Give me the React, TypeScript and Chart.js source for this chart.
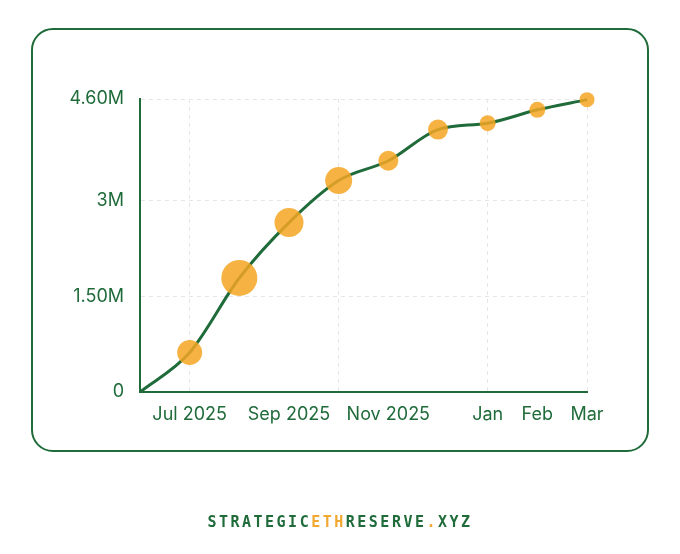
import React, { useEffect, useRef } from "react";
import { Chart, registerables } from "chart.js";

Chart.register(...registerables);

const categories = ["Jun 2025", "Jul 2025", "Aug 2025", "Sep 2025", "Oct 2025", "Nov 2025", "Dec 2025", "Jan", "Feb", "Mar"];
const tickLabels = ["", "Jul 2025", "", "Sep 2025", "", "Nov 2025", "", "Jan", "Feb", "Mar"];
const gridIndices = [1, 4, 7, 9];
const holdings = [0, 0.62e6, 1.79e6, 2.66e6, 3.32e6, 3.63e6, 4.12e6, 4.22e6, 4.43e6, 4.59e6];
const bubbleSizes = [0, 12.5, 18, 14.5, 13.5, 10, 10, 8, 8, 7.5];
const yTickValues = [0, 1.5e6, 3e6, 4.6e6];
const yTickLabels = ["0", "1.50M", "3M", "4.60M"];

const GREEN = "#1f6b3a";
const ORANGE = "rgba(245,166,35,0.85)";

export default function App() {
  const ref = useRef<HTMLCanvasElement | null>(null);
  useEffect(() => {
    if (!ref.current) return;
    const chart = new Chart(ref.current, {
      type: "line",
      data: {
        labels: categories,
        datasets: [
          {
            data: holdings,
            borderColor: GREEN,
            borderWidth: 3,
            cubicInterpolationMode: "monotone",
            pointRadius: bubbleSizes,
            pointHoverRadius: bubbleSizes,
            pointBackgroundColor: ORANGE,
            pointBorderWidth: 0,
            clip: false as any,
            fill: false,
          },
        ],
      },
      options: {
        responsive: false,
        animation: false,
        layout: { padding: { left: 0, top: 99, right: 93, bottom: 0 } },
        plugins: { legend: { display: false }, tooltip: { enabled: false } },
        scales: {
          x: {
            type: "category",
            offset: false,
            grid: {
              drawTicks: false,
              color: (ctx: any) => (gridIndices.includes(ctx.index) ? "#e6e6e6" : "rgba(0,0,0,0)"),
              lineWidth: 1,
            },
            border: { display: true, color: GREEN, width: 2, dash: [4, 4] },
            ticks: {
              autoSkip: false,
              maxRotation: 0,
              padding: 12,
              color: GREEN,
              font: { family: "Inter", size: 18 },
              callback: (_v: any, i: number) => tickLabels[i],
            },
            afterFit: (scale: any) => {
              scale.height = 162;
            },
          },
          y: {
            min: 0,
            max: 4.6e6,
            grid: {
              drawTicks: false,
              color: (ctx: any) => (ctx.index === 0 ? "rgba(0,0,0,0)" : "#e6e6e6"),
              lineWidth: 1,
            },
            border: { display: true, color: GREEN, width: 2, dash: [4, 4] },
            afterBuildTicks: (scale: any) => {
              scale.ticks = yTickValues.map((v) => ({ value: v }));
            },
            ticks: {
              padding: 16,
              color: GREEN,
              font: { family: "Inter", size: 18 },
              callback: (_v: any, i: number) => yTickLabels[i],
            },
            afterFit: (scale: any) => {
              scale.width = 140;
            },
          },
        },
      },
    });
    return () => chart.destroy();
  }, []);

  return (
    <div style={{ position: "absolute", left: 0, top: 0, width: 680, height: 554, background: "#fff", overflow: "hidden" }}>
      <div
        style={{
          position: "absolute",
          left: 31,
          top: 28,
          width: 618,
          height: 424,
          boxSizing: "border-box",
          border: `2px solid ${GREEN}`,
          borderRadius: 22,
        }}
      />
      <canvas ref={ref} width={680} height={554} style={{ position: "absolute", left: 0, top: 0 }} />
      <div
        style={{
          position: "absolute",
          left: 0,
          top: 511,
          width: 680,
          textAlign: "center",
          fontFamily: "'DejaVu Sans Mono', monospace",
          fontWeight: "bold",
          fontSize: 15,
          letterSpacing: 2.5,
          lineHeight: "22px",
          color: GREEN,
        }}
      >
        STRATEGIC<span style={{ color: "#f0a830" }}>ETH</span>RESERVE<span style={{ color: "#f0a830" }}>.</span>XYZ
      </div>
    </div>
  );
}
